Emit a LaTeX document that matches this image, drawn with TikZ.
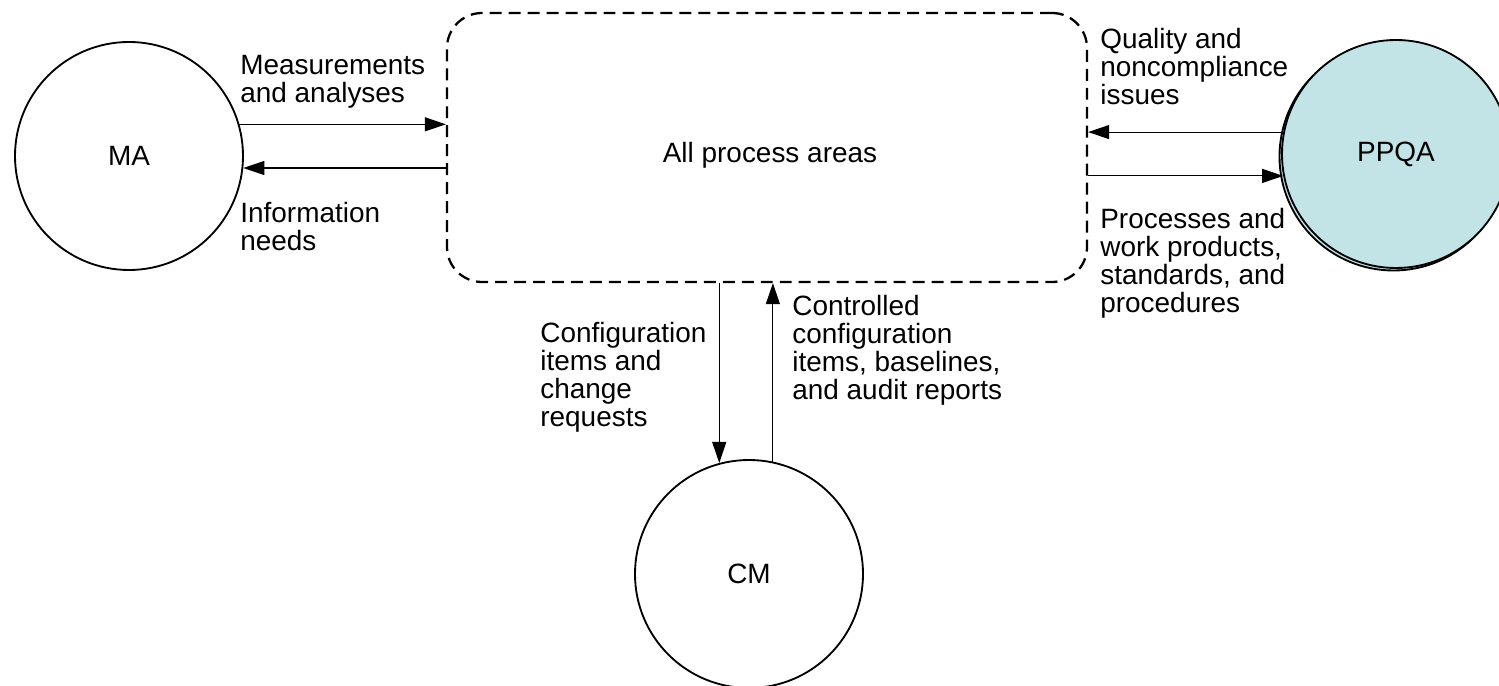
\documentclass[tikz,border=0pt]{standalone}
\usepackage{fontspec}
\setmainfont{Liberation Sans}
\usetikzlibrary{arrows.meta,positioning}
\definecolor{qacyan}{HTML}{C2E4E6}

\begin{document}
\begin{tikzpicture}[>={Triangle[length=12pt,width=8pt]},
    every node/.style={font=\fontsize{15.9}{16.1}\selectfont}]
  \tikzstyle{areaC}=[circle,draw,line width=1.05pt,minimum size=4.56cm,inner sep=0pt]
  \tikzstyle{allbox}=[rectangle,draw,line width=1.3pt,dash pattern=on 6.8pt off 4pt,
    rounded corners=0.7cm,minimum width=12.8cm,minimum height=5.38cm,inner sep=0pt]
  \tikzstyle{flowtext}=[align=left,anchor=base west,inner sep=0pt]
  \tikzstyle{flow}=[->,line width=0.6pt]
  \useasboundingbox (0,0) rectangle (29.98,-13.72);
  % Areas
  \node[allbox] (pa) at (15.34,-2.95) {};
  \node[anchor=base] (patext) at (15.40,-3.26) {All process areas};
  \node[areaC] (ma) at (2.58,-3.12) {MA};
  \node[areaC] (cm) at (14.98,-11.48) {CM};
  \node[areaC,fill=qacyan,xshift=-0.05cm,yshift=-0.05cm] (ppqaback) at (27.92,-3.08) {};
  \node[areaC,fill=qacyan] (ppqa) at (27.92,-3.08) {PPQA};
  % Flows
  \draw[flow] (ma.16) -- (ma.16 -| pa.west);
  \draw[flow] (ma.354.5 -| pa.west) -- (ma.354.5);
  \draw[flow] (ppqa.169) -- (ppqa.169 -| pa.east);
  \draw[flow] (ppqa.191.6 -| pa.east) -- (ppqa.191.6);
  \draw[flow] (cm.105.8 |- pa.south) -- (cm.105.8);
  \draw[flow] (cm.78.4) -- (cm.78.4 |- pa.south);
  % Labels (placed at the baseline of their last line)
  \node[flowtext] (meas) at (4.80,-2.05) {Measurements\\and analyses};
  \node[flowtext] (info) at (4.80,-5.02) {Information\\needs};
  \node[flowtext] (qual) at (22.00,-2.10) {Quality and\\noncompliance\\issues};
  \node[flowtext] (proc) at (22.00,-6.26) {Processes and\\work products,\\standards, and\\procedures};
  \node[flowtext] (conf) at (10.80,-8.54) {Configuration\\items and\\change\\requests};
  \node[flowtext] (ctrl) at (15.84,-8.00) {Controlled\\configuration\\items, baselines,\\and audit reports};
\end{tikzpicture}
\end{document}
